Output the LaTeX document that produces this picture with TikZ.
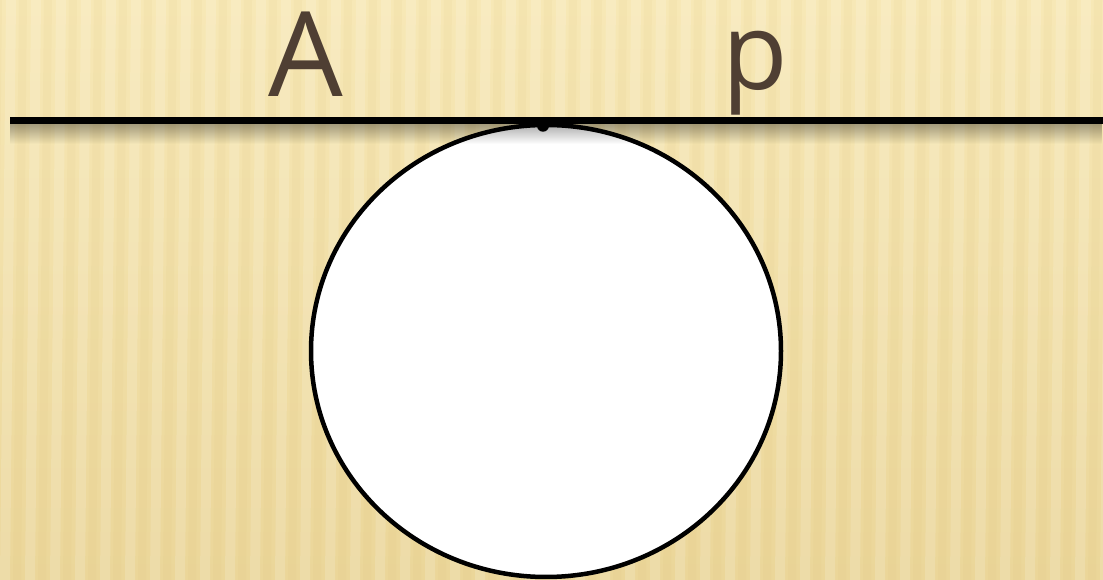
\documentclass[tikz,border=0pt]{standalone}
\usepackage{fontspec}
\setmainfont{Open Sans}
\usetikzlibrary{shapes.geometric,fadings}
\definecolor{bgtop}{HTML}{F7E8B6}
\definecolor{bgbot}{HTML}{EBD699}
\definecolor{stripedark}{HTML}{D9BE78}
\definecolor{txt}{HTML}{4F3F33}
\tikzset{
  label text/.style={text=txt, inner sep=0, anchor=base},
  tangent line/.style={line width=7, black},
  round body/.style={draw=black, line width=4.5, fill=white, ellipse, inner sep=0, minimum width=470, minimum height=452}
}
\begin{document}
\begin{tikzpicture}[x=1pt,y=1pt]
\useasboundingbox (0,0) rectangle (1103,580);
% background
\shade[top color=bgtop, bottom color=bgbot] (0,0) rectangle (1103,580);
\foreach \i in {-1,...,45} {
  \fill[white, opacity=0.15] (\i*25,0) -- (\i*25+10,0) -- (\i*25+16,580) -- (\i*25+6,580) -- cycle;
  \fill[stripedark, opacity=0.09] (\i*25+13,0) -- (\i*25+21,0) -- (\i*25+27,580) -- (\i*25+19,580) -- cycle;
}
% circle
\node[round body] (circ) at (546,229) {};
% shadow of the line
\fill[black, opacity=0.35, path fading=south] (10,436) rectangle (1103,457);
% line
\coordinate (L) at (10,459);
\coordinate (R) at (1103,459);
\draw[tangent line] (L) -- (R);
% tangent point
\fill[black] (circ.north) ++(-3,-3) coordinate (T) circle (6);
% labels
\node[label text, font=\fontsize{118}{118}\selectfont] (A) at (306,483) {A};
\node[label text, font=\fontsize{107}{107}\selectfont] (p) at (755,490) {p};
\end{tikzpicture}
\end{document}
